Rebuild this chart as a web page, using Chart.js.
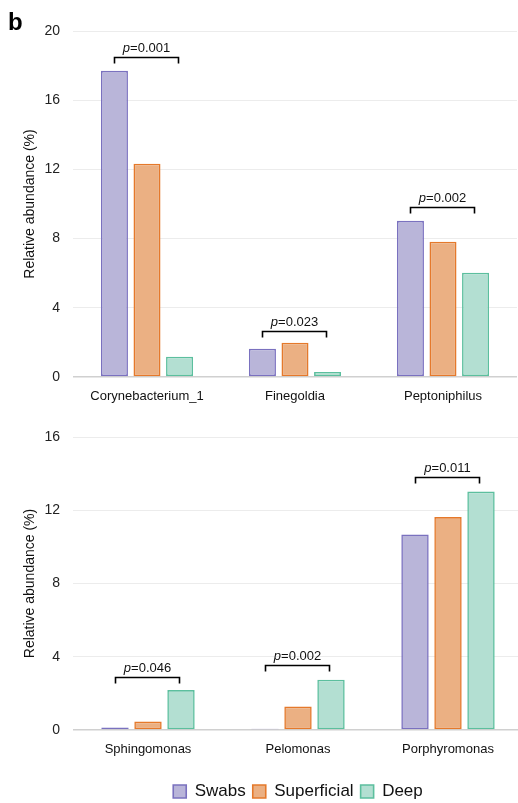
<!DOCTYPE html>
<html><head><meta charset="utf-8">
<script src="https://cdn.jsdelivr.net/npm/chart.js@4.4.0/dist/chart.umd.min.js"></script>
<style>
html,body{margin:0;padding:0;background:#fff;overflow:hidden;width:518px;height:803px;}
#wrap{position:relative;width:518px;height:803px;overflow:hidden;background:#fff;}
#c1{position:absolute;left:0;top:0;}
#c2{position:absolute;left:0;top:405px;}
#lab{position:absolute;left:8px;top:10px;font:bold 24px 'Liberation Sans',Arial,sans-serif;line-height:24px;color:#000;}
</style></head><body>
<div id="wrap">
<canvas id="c1" width="518" height="420"></canvas>
<canvas id="c2" width="524" height="405"></canvas>
<div id="lab">b</div>
</div>
<script>
const FONT = "'Liberation Sans', Arial, sans-serif";
const seriesNames = ['Swabs', 'Superficial', 'Deep'];

const topCategories = ['Corynebacterium_1', 'Finegoldia', 'Peptoniphilus'];
const topSwabs = [17.7, 1.64, 9.03];
const topSuperficial = [12.33, 1.98, 7.82];
const topDeep = [1.17, 0.29, 6.03];
const topBracketY = [18.5, 2.66, 9.84];
const topPValues = ['0.001', '0.023', '0.002'];
const topTicks = [0, 4, 8, 12, 16, 20];

const bottomCategories = ['Sphingomonas', 'Pelomonas', 'Porphyromonas'];
const bottomSwabs = [0.13, 0.07, 10.68];
const bottomSuperficial = [0.46, 1.28, 11.63];
const bottomDeep = [2.18, 2.75, 13.02];
const bottomBracketY = [2.91, 3.57, 13.83];
const bottomPValues = ['0.046', '0.002', '0.011'];
const bottomTicks = [0, 4, 8, 12, 16];

const fills = ['#b9b5d9', '#ebb083', '#b3dfd2'];
const borders = ['#7a71bf', '#e5792b', '#5cbf9e'];

const bracketPlugin = {
  id: 'brackets',
  afterDatasetsDraw(chart, args, opts) {
    const ctx = chart.ctx;
    const ys = chart.scales.y;
    const m0 = chart.getDatasetMeta(0), m2 = chart.getDatasetMeta(2);
    opts.levels.forEach((lv, i) => {
      const x1 = Math.round(m0.data[i].x) + 0.5;
      const x2 = Math.round(m2.data[i].x - 2) + 0.5;
      const yy = Math.round(ys.getPixelForValue(lv)) + 0.5;
      ctx.save();
      ctx.strokeStyle = '#000';
      ctx.lineWidth = 1.6;
      ctx.beginPath();
      ctx.moveTo(x1, yy + 6); ctx.lineTo(x1, yy); ctx.lineTo(x2, yy); ctx.lineTo(x2, yy + 6);
      ctx.stroke();
      ctx.font = 'italic 13px ' + FONT;
      const pW = ctx.measureText('p').width;
      const rest = '=' + opts.pvals[i];
      ctx.font = '13px ' + FONT;
      const rW = ctx.measureText(rest).width;
      const cx = (x1 + x2) / 2;
      const sx = cx - (pW + rW) / 2;
      ctx.textBaseline = 'middle';
      ctx.textAlign = 'left';
      ctx.fillStyle = '#111';
      ctx.font = 'italic 13px ' + FONT;
      ctx.fillText('p', sx, yy - 9);
      ctx.font = '13px ' + FONT;
      ctx.fillText(rest, sx + pW, yy - 9);
      ctx.restore();
    });
  }
};

function makeDatasets(a, b, c) {
  return [a, b, c].map((d, i) => ({
    label: seriesNames[i],
    data: d,
    backgroundColor: fills[i],
    borderColor: borders[i],
    borderWidth: 1.6,
    borderSkipped: false,
    categoryPercentage: 0.66,
    barPercentage: 0.83
  }));
}

function makeOptions(maxY, ticks, levels, pvals, xHeight, padTop, showLegend) {
  return {
    responsive: false,
    animation: false,
    layout: { padding: { top: padTop, right: 1, left: 0, bottom: 0 } },
    plugins: {
      legend: showLegend ? {
        display: true,
        position: 'bottom',
        fullSize: false,
        labels: {
          boxWidth: 13, boxHeight: 13, padding: 7,
          color: '#111',
          font: { size: 17, family: FONT }
        }
      } : { display: false },
      tooltip: { enabled: false },
      brackets: { levels: levels, pvals: pvals }
    },
    scales: {
      x: {
        grid: { display: false },
        border: { display: false },
        ticks: { color: '#111', padding: 4, font: { size: 13, family: FONT }, maxRotation: 0 },
        afterFit(s) { s.height = xHeight; }
      },
      y: {
        min: 0, max: maxY,
        afterBuildTicks(s) { s.ticks = ticks.map(v => ({ value: v })); },
        grid: {
          drawTicks: false,
          color: c => c.tick && c.tick.value === 0 ? '#d0d0d0' : '#ececec',
          lineWidth: c => c.tick && c.tick.value === 0 ? 1.6 : 1
        },
        border: { display: false },
        ticks: { color: '#222', padding: 13, font: { size: 14, family: FONT } },
        title: {
          display: true, text: 'Relative abundance (%)', color: '#111',
          font: { size: 14, family: FONT }, padding: { top: 22, bottom: 0 }
        },
        afterFit(s) { s.width = 73; }
      }
    }
  };
}

new Chart(document.getElementById('c1'), {
  type: 'bar',
  data: { labels: topCategories, datasets: makeDatasets(topSwabs, topSuperficial, topDeep) },
  options: makeOptions(20, topTicks, topBracketY, topPValues, 43, 31, false),
  plugins: [bracketPlugin]
});

new Chart(document.getElementById('c2'), {
  type: 'bar',
  data: { labels: bottomCategories, datasets: makeDatasets(bottomSwabs, bottomSuperficial, bottomDeep) },
  options: makeOptions(16, bottomTicks, bottomBracketY, bottomPValues, 46, 32, true),
  plugins: [bracketPlugin]
});
</script>
</body></html>
